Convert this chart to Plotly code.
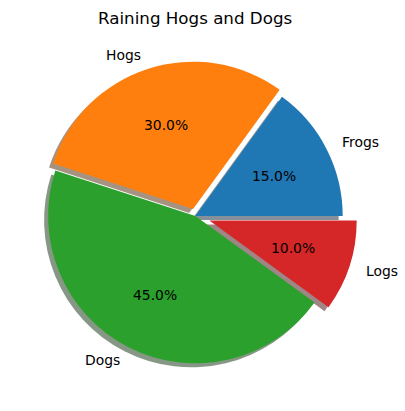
import math
import plotly.graph_objects as go

labels = ["Frogs", "Hogs", "Dogs", "Logs"]
sizes = [15, 30, 45, 10]
explode = [0, 0.05, 0, 0.1]
colors = ["#1f77b4", "#ff7f0e", "#2ca02c", "#d62728"]
title = "Raining Hogs and Dogs"

W, H = 405, 411
cx, cy, r = 195.4, 216.0, 147.3      # pie centre and radius (pixels)
shadow_dx, shadow_dy = -4.0, 4.0      # shadow offset (pixels, screen coords)
FONT = "DejaVu Sans"

maxpull = max(explode)
half = r * (1 + maxpull)
total = sum(sizes)
# plotly (counterclockwise): rotation marks the end edge of the first slice,
# measured clockwise from 12 o'clock; first slice should start at 3 o'clock
rot = 90 - 360.0 * sizes[0] / total


def px(x):
    return x / W


def py(y):
    return (H - y) / H


def shadow_rgba(hexc):
    h = hexc.lstrip("#")
    rgb = [int(h[i:i + 2], 16) * 0.3 for i in (0, 2, 4)]
    return "rgba(%d,%d,%d,0.5)" % tuple(rgb)


fig = go.Figure()
# shadow
fig.add_trace(go.Pie(
    labels=labels, values=sizes, sort=False, direction="counterclockwise",
    rotation=rot, pull=explode, textinfo="none", hoverinfo="skip",
    marker=dict(colors=[shadow_rgba(c) for c in colors], line=dict(width=0)),
    domain=dict(x=[px(cx + shadow_dx - half), px(cx + shadow_dx + half)],
                y=[py(cy + shadow_dy + half), py(cy + shadow_dy - half)]),
    showlegend=False,
))
# pie
fig.add_trace(go.Pie(
    labels=labels, values=sizes, sort=False, direction="counterclockwise",
    rotation=rot, pull=explode, textinfo="none",
    marker=dict(colors=colors, line=dict(width=0)),
    domain=dict(x=[px(cx - half), px(cx + half)],
                y=[py(cy + half), py(cy - half)]),
    showlegend=False,
))

annotations = []
start = 0.0
for lab, v, e in zip(labels, sizes, explode):
    a0 = 360.0 * start / total
    a1 = 360.0 * (start + v) / total
    start += v
    mid = math.radians((a0 + a1) / 2)
    ox = cx + e * r * math.cos(mid)
    oy = cy - e * r * math.sin(mid)
    # label
    lx = ox + 1.1 * r * math.cos(mid)
    ly = oy - 1.1 * r * math.sin(mid)
    annotations.append(dict(
        x=px(lx), y=py(ly), xref="paper", yref="paper", text=lab,
        showarrow=False, xanchor="left" if lx > cx else "right", yanchor="middle",
        font=dict(family=FONT, size=13.9, color="black")))
    # percentage
    tx = ox + 0.6 * r * math.cos(mid)
    ty = oy - 0.6 * r * math.sin(mid)
    annotations.append(dict(
        x=px(tx), y=py(ty), xref="paper", yref="paper",
        text="%.1f%%" % (100.0 * v / total),
        showarrow=False, xanchor="center", yanchor="middle",
        font=dict(family=FONT, size=13.9, color="black")))

annotations.append(dict(
    x=px(cx), y=py(18), xref="paper", yref="paper", text=title,
    showarrow=False, xanchor="center", yanchor="middle",
    font=dict(family=FONT, size=16.7, color="black")))

fig.update_layout(
    width=W, height=H, margin=dict(l=0, r=0, t=0, b=0),
    paper_bgcolor="white", plot_bgcolor="white",
    annotations=annotations, showlegend=False,
)

fig.write_html("out.html")
